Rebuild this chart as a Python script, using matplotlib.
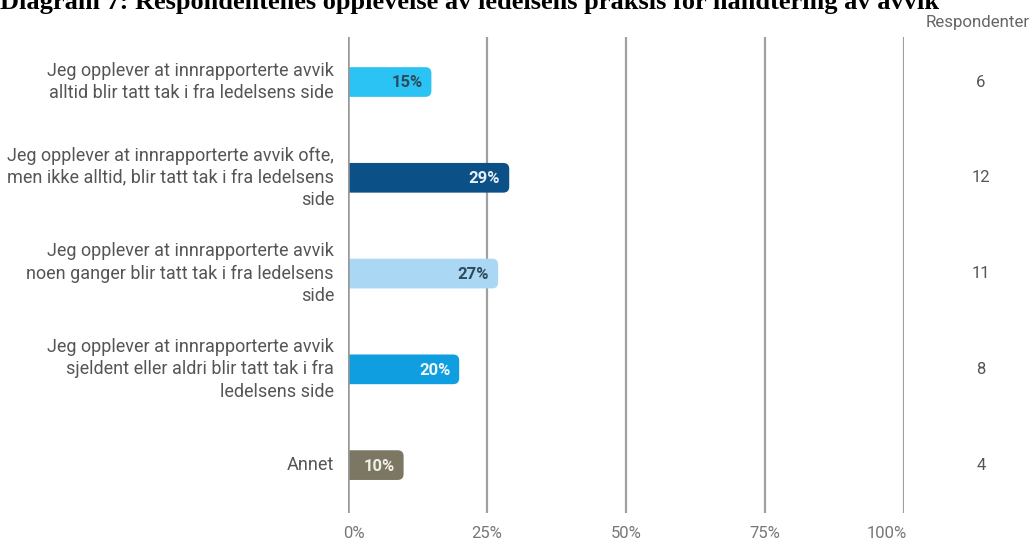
import matplotlib.pyplot as plt
from matplotlib.patches import FancyBboxPatch

# data
categories = [
    "Jeg opplever at innrapporterte avvik\nalltid blir tatt tak i fra ledelsens side",
    "Jeg opplever at innrapporterte avvik ofte,\nmen ikke alltid, blir tatt tak i fra ledelsens\nside",
    "Jeg opplever at innrapporterte avvik\nnoen ganger blir tatt tak i fra ledelsens\nside",
    "Jeg opplever at innrapporterte avvik\nsjeldent eller aldri blir tatt tak i fra\nledelsens side",
    "Annet",
]
shares = [0.15, 0.29, 0.27, 0.20, 0.10]
respondents = [6, 12, 11, 8, 4]
xticks = [0, 0.25, 0.5, 0.75, 1.0]
xtick_labels = ["0%", "25%", "50%", "75%", "100%"]

bar_colors = ["#2ac3f3", "#0b5187", "#a9d7f4", "#0f9fe0", "#7b7762"]
label_colors = ["#2f4a5c", "#e8eef5", "#2f4a5c", "#f2f8fc", "#f0efe8"]

W, H = 1035, 542
fig = plt.figure(figsize=(W / 100, H / 100), dpi=100)
ax = fig.add_axes([348 / W, 1 - 513 / H, (904 - 348) / W, (513 - 37) / H])
ax.set_xlim(0, 1)
ax.set_ylim(4.5, -0.47)
ax.axis("off")

# gridlines
for x in xticks:
    ax.axvline(x, color="#a0a0a0", lw=1.6, zorder=1)

# aspect for rounded corners
px_x = ax.get_position().width * W / 1.0
px_y = ax.get_position().height * H / (4.5 + 0.47)
r = 6 / px_x
aspect = px_x / px_y

bar_h = 0.31
for i, (v, c) in enumerate(zip(shares, bar_colors)):
    box = FancyBboxPatch((-0.02, i - bar_h / 2), v + 0.02, bar_h,
                         boxstyle=f"round,pad=0,rounding_size={r}",
                         mutation_aspect=aspect, fc=c, ec="none", zorder=2,
                         clip_on=True)
    ax.add_patch(box)
    ax.text(v - 0.016, i + 0.01, f"{int(round(v * 100))}%", ha="right", va="center",
            color=label_colors[i], fontsize=12, fontweight="bold",
            family="Roboto", zorder=3)

ax.axvline(0, color="#999999", lw=1.8, zorder=4)

# category labels
for i, lab in enumerate(categories):
    fig.text(334 / W, ax.transData.transform((0, i))[1] / H, lab, ha="right",
             va="center", fontsize=13, color="#555555", family="Roboto",
             linespacing=1.3)

# tick labels
for x, t in zip(xticks, xtick_labels):
    xp = 348 + x * 556
    ha = "center"
    if x == 0:
        xp, ha = 343, "left"
    elif x == 1.0:
        xp, ha = 907, "right"
    fig.text(xp / W, 1 - 533 / H, t, ha=ha, va="center",
             fontsize=12, color="#777777", family="Roboto")

# respondent column
fig.text(978 / W, 1 - 22 / H, "Respondenter", ha="center", va="center",
         fontsize=12.2, color="#666666", family="Roboto")
for i, n in enumerate(respondents):
    fig.text(981 / W, ax.transData.transform((0, i))[1] / H, str(n),
             ha="center", va="center", fontsize=12, color="#555555",
             family="Roboto")

fig.text(0, 1 - 9 / H, "Diagram 7: Respondentenes opplevelse av ledelsens praksis for håndtering av avvik",
         ha="left", va="baseline", fontsize=19, fontweight="bold",
         family="Liberation Serif", color="black")

fig.savefig("out.png", dpi=100)
